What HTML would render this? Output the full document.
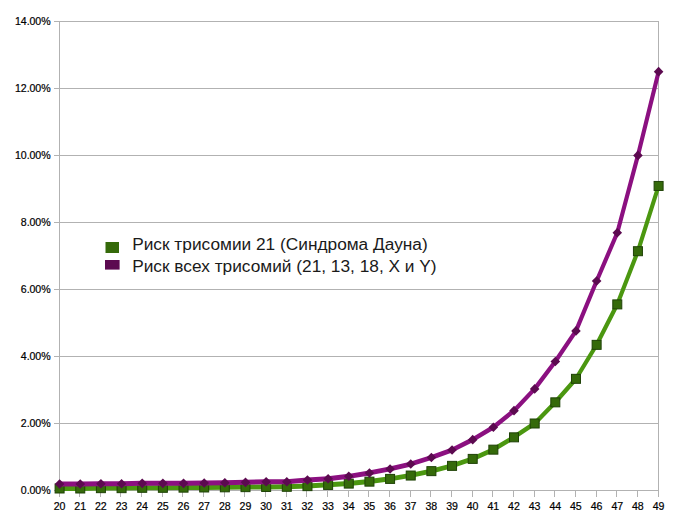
<!DOCTYPE html>
<html><head><meta charset="utf-8"><style>
html,body{margin:0;padding:0;background:#fff;}
body{width:675px;height:522px;overflow:hidden;}
svg{display:block;}
text{font-family:"Liberation Sans",sans-serif;fill:#111;}
.ax{font-size:10.6px;fill:#000;stroke:#000;stroke-width:0.2px;letter-spacing:-0.08px;}
.lg{font-size:17.3px;fill:#1a1a1a;}
</style></head><body>
<svg width="675" height="522" viewBox="0 0 675 522">
<g shape-rendering="crispEdges">
<rect width="675" height="522" fill="#fff"/>
<line x1="54.0" y1="490.50" x2="658.5" y2="490.50" stroke="#b2b2b2" stroke-width="1"/>
<line x1="54.0" y1="423.50" x2="658.5" y2="423.50" stroke="#b2b2b2" stroke-width="1"/>
<line x1="54.0" y1="356.50" x2="658.5" y2="356.50" stroke="#b2b2b2" stroke-width="1"/>
<line x1="54.0" y1="289.50" x2="658.5" y2="289.50" stroke="#b2b2b2" stroke-width="1"/>
<line x1="54.0" y1="222.50" x2="658.5" y2="222.50" stroke="#b2b2b2" stroke-width="1"/>
<line x1="54.0" y1="155.50" x2="658.5" y2="155.50" stroke="#b2b2b2" stroke-width="1"/>
<line x1="54.0" y1="88.50" x2="658.5" y2="88.50" stroke="#b2b2b2" stroke-width="1"/>
<line x1="54.0" y1="21.50" x2="658.5" y2="21.50" stroke="#b2b2b2" stroke-width="1"/>
<line x1="59.5" y1="21.5" x2="59.5" y2="490.5" stroke="#b2b2b2" stroke-width="1"/>
<line x1="658.5" y1="21.5" x2="658.5" y2="490.5" stroke="#b2b2b2" stroke-width="1"/>
<line x1="59.50" y1="490.5" x2="59.50" y2="497.0" stroke="#b2b2b2" stroke-width="1"/>
<line x1="79.50" y1="490.5" x2="79.50" y2="497.0" stroke="#b2b2b2" stroke-width="1"/>
<line x1="100.50" y1="490.5" x2="100.50" y2="497.0" stroke="#b2b2b2" stroke-width="1"/>
<line x1="120.50" y1="490.5" x2="120.50" y2="497.0" stroke="#b2b2b2" stroke-width="1"/>
<line x1="141.50" y1="490.5" x2="141.50" y2="497.0" stroke="#b2b2b2" stroke-width="1"/>
<line x1="162.50" y1="490.5" x2="162.50" y2="497.0" stroke="#b2b2b2" stroke-width="1"/>
<line x1="182.50" y1="490.5" x2="182.50" y2="497.0" stroke="#b2b2b2" stroke-width="1"/>
<line x1="203.50" y1="490.5" x2="203.50" y2="497.0" stroke="#b2b2b2" stroke-width="1"/>
<line x1="224.50" y1="490.5" x2="224.50" y2="497.0" stroke="#b2b2b2" stroke-width="1"/>
<line x1="244.50" y1="490.5" x2="244.50" y2="497.0" stroke="#b2b2b2" stroke-width="1"/>
<line x1="265.50" y1="490.5" x2="265.50" y2="497.0" stroke="#b2b2b2" stroke-width="1"/>
<line x1="286.50" y1="490.5" x2="286.50" y2="497.0" stroke="#b2b2b2" stroke-width="1"/>
<line x1="306.50" y1="490.5" x2="306.50" y2="497.0" stroke="#b2b2b2" stroke-width="1"/>
<line x1="327.50" y1="490.5" x2="327.50" y2="497.0" stroke="#b2b2b2" stroke-width="1"/>
<line x1="348.50" y1="490.5" x2="348.50" y2="497.0" stroke="#b2b2b2" stroke-width="1"/>
<line x1="368.50" y1="490.5" x2="368.50" y2="497.0" stroke="#b2b2b2" stroke-width="1"/>
<line x1="389.50" y1="490.5" x2="389.50" y2="497.0" stroke="#b2b2b2" stroke-width="1"/>
<line x1="410.50" y1="490.5" x2="410.50" y2="497.0" stroke="#b2b2b2" stroke-width="1"/>
<line x1="430.50" y1="490.5" x2="430.50" y2="497.0" stroke="#b2b2b2" stroke-width="1"/>
<line x1="451.50" y1="490.5" x2="451.50" y2="497.0" stroke="#b2b2b2" stroke-width="1"/>
<line x1="472.50" y1="490.5" x2="472.50" y2="497.0" stroke="#b2b2b2" stroke-width="1"/>
<line x1="492.50" y1="490.5" x2="492.50" y2="497.0" stroke="#b2b2b2" stroke-width="1"/>
<line x1="513.50" y1="490.5" x2="513.50" y2="497.0" stroke="#b2b2b2" stroke-width="1"/>
<line x1="534.50" y1="490.5" x2="534.50" y2="497.0" stroke="#b2b2b2" stroke-width="1"/>
<line x1="554.50" y1="490.5" x2="554.50" y2="497.0" stroke="#b2b2b2" stroke-width="1"/>
<line x1="575.50" y1="490.5" x2="575.50" y2="497.0" stroke="#b2b2b2" stroke-width="1"/>
<line x1="596.50" y1="490.5" x2="596.50" y2="497.0" stroke="#b2b2b2" stroke-width="1"/>
<line x1="616.50" y1="490.5" x2="616.50" y2="497.0" stroke="#b2b2b2" stroke-width="1"/>
<line x1="637.50" y1="490.5" x2="637.50" y2="497.0" stroke="#b2b2b2" stroke-width="1"/>
<line x1="658.50" y1="490.5" x2="658.50" y2="497.0" stroke="#b2b2b2" stroke-width="1"/>
</g>
<text x="50.5" y="494.10" text-anchor="end" class="ax">0.00%</text>
<text x="50.5" y="427.10" text-anchor="end" class="ax">2.00%</text>
<text x="50.5" y="360.10" text-anchor="end" class="ax">4.00%</text>
<text x="50.5" y="293.10" text-anchor="end" class="ax">6.00%</text>
<text x="50.5" y="226.10" text-anchor="end" class="ax">8.00%</text>
<text x="50.5" y="159.10" text-anchor="end" class="ax">10.00%</text>
<text x="50.5" y="92.10" text-anchor="end" class="ax">12.00%</text>
<text x="50.5" y="25.10" text-anchor="end" class="ax">14.00%</text>
<text x="59.50" y="510.10" text-anchor="middle" class="ax">20</text>
<text x="80.16" y="510.10" text-anchor="middle" class="ax">21</text>
<text x="100.81" y="510.10" text-anchor="middle" class="ax">22</text>
<text x="121.47" y="510.10" text-anchor="middle" class="ax">23</text>
<text x="142.12" y="510.10" text-anchor="middle" class="ax">24</text>
<text x="162.78" y="510.10" text-anchor="middle" class="ax">25</text>
<text x="183.43" y="510.10" text-anchor="middle" class="ax">26</text>
<text x="204.09" y="510.10" text-anchor="middle" class="ax">27</text>
<text x="224.74" y="510.10" text-anchor="middle" class="ax">28</text>
<text x="245.40" y="510.10" text-anchor="middle" class="ax">29</text>
<text x="266.05" y="510.10" text-anchor="middle" class="ax">30</text>
<text x="286.71" y="510.10" text-anchor="middle" class="ax">31</text>
<text x="307.36" y="510.10" text-anchor="middle" class="ax">32</text>
<text x="328.02" y="510.10" text-anchor="middle" class="ax">33</text>
<text x="348.67" y="510.10" text-anchor="middle" class="ax">34</text>
<text x="369.33" y="510.10" text-anchor="middle" class="ax">35</text>
<text x="389.98" y="510.10" text-anchor="middle" class="ax">36</text>
<text x="410.64" y="510.10" text-anchor="middle" class="ax">37</text>
<text x="431.29" y="510.10" text-anchor="middle" class="ax">38</text>
<text x="451.95" y="510.10" text-anchor="middle" class="ax">39</text>
<text x="472.60" y="510.10" text-anchor="middle" class="ax">40</text>
<text x="493.26" y="510.10" text-anchor="middle" class="ax">41</text>
<text x="513.91" y="510.10" text-anchor="middle" class="ax">42</text>
<text x="534.57" y="510.10" text-anchor="middle" class="ax">43</text>
<text x="555.22" y="510.10" text-anchor="middle" class="ax">44</text>
<text x="575.88" y="510.10" text-anchor="middle" class="ax">45</text>
<text x="596.53" y="510.10" text-anchor="middle" class="ax">46</text>
<text x="617.19" y="510.10" text-anchor="middle" class="ax">47</text>
<text x="637.84" y="510.10" text-anchor="middle" class="ax">48</text>
<text x="658.50" y="510.10" text-anchor="middle" class="ax">49</text>
<g stroke="#4b9710" stroke-linecap="round" fill="none">
<line x1="59.60" y1="488.39" x2="80.26" y2="488.39" stroke-width="5.00"/>
<line x1="80.26" y1="488.39" x2="100.91" y2="488.06" stroke-width="5.00"/>
<line x1="100.91" y1="488.06" x2="121.57" y2="488.06" stroke-width="5.00"/>
<line x1="121.57" y1="488.06" x2="142.22" y2="487.72" stroke-width="5.00"/>
<line x1="142.22" y1="487.72" x2="162.88" y2="487.72" stroke-width="5.00"/>
<line x1="162.88" y1="487.72" x2="183.53" y2="487.55" stroke-width="5.00"/>
<line x1="183.53" y1="487.55" x2="204.19" y2="487.38" stroke-width="5.00"/>
<line x1="204.19" y1="487.38" x2="224.84" y2="487.22" stroke-width="5.00"/>
<line x1="224.84" y1="487.22" x2="245.50" y2="487.05" stroke-width="5.00"/>
<line x1="245.50" y1="487.05" x2="266.15" y2="486.88" stroke-width="5.00"/>
<line x1="266.15" y1="486.88" x2="286.81" y2="486.71" stroke-width="5.00"/>
<line x1="286.81" y1="486.71" x2="307.46" y2="486.04" stroke-width="5.00"/>
<line x1="307.46" y1="486.04" x2="328.12" y2="484.84" stroke-width="5.00"/>
<line x1="328.12" y1="484.84" x2="348.77" y2="483.49" stroke-width="5.00"/>
<line x1="348.77" y1="483.49" x2="369.43" y2="481.54" stroke-width="4.99"/>
<line x1="369.43" y1="481.54" x2="390.08" y2="478.81" stroke-width="4.96"/>
<line x1="390.08" y1="478.81" x2="410.74" y2="475.44" stroke-width="4.93"/>
<line x1="410.74" y1="475.44" x2="431.39" y2="471.04" stroke-width="4.89"/>
<line x1="431.39" y1="471.04" x2="452.05" y2="465.77" stroke-width="4.85"/>
<line x1="452.05" y1="465.77" x2="472.70" y2="458.80" stroke-width="4.78"/>
<line x1="472.70" y1="458.80" x2="493.36" y2="449.55" stroke-width="4.70"/>
<line x1="493.36" y1="449.55" x2="514.01" y2="437.23" stroke-width="4.59"/>
<line x1="514.01" y1="437.23" x2="534.67" y2="423.40" stroke-width="4.54"/>
<line x1="534.67" y1="423.40" x2="555.32" y2="402.24" stroke-width="4.35"/>
<line x1="555.32" y1="402.24" x2="575.98" y2="378.73" stroke-width="4.30"/>
<line x1="575.98" y1="378.73" x2="596.63" y2="344.75" stroke-width="4.24"/>
<line x1="596.63" y1="344.75" x2="617.29" y2="304.29" stroke-width="4.21"/>
<line x1="617.29" y1="304.29" x2="637.94" y2="251.11" stroke-width="4.17"/>
<line x1="637.94" y1="251.11" x2="658.60" y2="185.85" stroke-width="4.15"/>
</g>
<rect x="55.10" y="483.99" width="9" height="9" fill="#356a0a" stroke="#1f4207" stroke-width="1"/>
<rect x="75.76" y="483.99" width="9" height="9" fill="#356a0a" stroke="#1f4207" stroke-width="1"/>
<rect x="96.41" y="483.66" width="9" height="9" fill="#356a0a" stroke="#1f4207" stroke-width="1"/>
<rect x="117.07" y="483.66" width="9" height="9" fill="#356a0a" stroke="#1f4207" stroke-width="1"/>
<rect x="137.72" y="483.32" width="9" height="9" fill="#356a0a" stroke="#1f4207" stroke-width="1"/>
<rect x="158.38" y="483.32" width="9" height="9" fill="#356a0a" stroke="#1f4207" stroke-width="1"/>
<rect x="179.03" y="483.15" width="9" height="9" fill="#356a0a" stroke="#1f4207" stroke-width="1"/>
<rect x="199.69" y="482.98" width="9" height="9" fill="#356a0a" stroke="#1f4207" stroke-width="1"/>
<rect x="220.34" y="482.82" width="9" height="9" fill="#356a0a" stroke="#1f4207" stroke-width="1"/>
<rect x="241.00" y="482.65" width="9" height="9" fill="#356a0a" stroke="#1f4207" stroke-width="1"/>
<rect x="261.65" y="482.48" width="9" height="9" fill="#356a0a" stroke="#1f4207" stroke-width="1"/>
<rect x="282.31" y="482.31" width="9" height="9" fill="#356a0a" stroke="#1f4207" stroke-width="1"/>
<rect x="302.96" y="481.64" width="9" height="9" fill="#356a0a" stroke="#1f4207" stroke-width="1"/>
<rect x="323.62" y="480.44" width="9" height="9" fill="#356a0a" stroke="#1f4207" stroke-width="1"/>
<rect x="344.27" y="479.09" width="9" height="9" fill="#356a0a" stroke="#1f4207" stroke-width="1"/>
<rect x="364.93" y="477.14" width="9" height="9" fill="#356a0a" stroke="#1f4207" stroke-width="1"/>
<rect x="385.58" y="474.41" width="9" height="9" fill="#356a0a" stroke="#1f4207" stroke-width="1"/>
<rect x="406.24" y="471.04" width="9" height="9" fill="#356a0a" stroke="#1f4207" stroke-width="1"/>
<rect x="426.89" y="466.64" width="9" height="9" fill="#356a0a" stroke="#1f4207" stroke-width="1"/>
<rect x="447.55" y="461.37" width="9" height="9" fill="#356a0a" stroke="#1f4207" stroke-width="1"/>
<rect x="468.20" y="454.40" width="9" height="9" fill="#356a0a" stroke="#1f4207" stroke-width="1"/>
<rect x="488.86" y="445.15" width="9" height="9" fill="#356a0a" stroke="#1f4207" stroke-width="1"/>
<rect x="509.51" y="432.83" width="9" height="9" fill="#356a0a" stroke="#1f4207" stroke-width="1"/>
<rect x="530.17" y="419.00" width="9" height="9" fill="#356a0a" stroke="#1f4207" stroke-width="1"/>
<rect x="550.82" y="397.84" width="9" height="9" fill="#356a0a" stroke="#1f4207" stroke-width="1"/>
<rect x="571.48" y="374.33" width="9" height="9" fill="#356a0a" stroke="#1f4207" stroke-width="1"/>
<rect x="592.13" y="340.35" width="9" height="9" fill="#356a0a" stroke="#1f4207" stroke-width="1"/>
<rect x="612.79" y="299.89" width="9" height="9" fill="#356a0a" stroke="#1f4207" stroke-width="1"/>
<rect x="633.44" y="246.71" width="9" height="9" fill="#356a0a" stroke="#1f4207" stroke-width="1"/>
<rect x="654.10" y="181.45" width="9" height="9" fill="#356a0a" stroke="#1f4207" stroke-width="1"/>
<g stroke="#8b1080" stroke-linecap="round" fill="none">
<line x1="59.60" y1="484.03" x2="80.26" y2="484.03" stroke-width="5.00"/>
<line x1="80.26" y1="484.03" x2="100.91" y2="483.70" stroke-width="5.00"/>
<line x1="100.91" y1="483.70" x2="121.57" y2="483.70" stroke-width="5.00"/>
<line x1="121.57" y1="483.70" x2="142.22" y2="483.36" stroke-width="5.00"/>
<line x1="142.22" y1="483.36" x2="162.88" y2="483.36" stroke-width="5.00"/>
<line x1="162.88" y1="483.36" x2="183.53" y2="483.36" stroke-width="5.00"/>
<line x1="183.53" y1="483.36" x2="204.19" y2="483.04" stroke-width="5.00"/>
<line x1="204.19" y1="483.04" x2="224.84" y2="482.70" stroke-width="5.00"/>
<line x1="224.84" y1="482.70" x2="245.50" y2="482.37" stroke-width="5.00"/>
<line x1="245.50" y1="482.37" x2="266.15" y2="481.70" stroke-width="5.00"/>
<line x1="266.15" y1="481.70" x2="286.81" y2="481.70" stroke-width="5.00"/>
<line x1="286.81" y1="481.70" x2="307.46" y2="480.00" stroke-width="5.00"/>
<line x1="307.46" y1="480.00" x2="328.12" y2="478.69" stroke-width="5.00"/>
<line x1="328.12" y1="478.69" x2="348.77" y2="476.32" stroke-width="4.98"/>
<line x1="348.77" y1="476.32" x2="369.43" y2="472.95" stroke-width="4.93"/>
<line x1="369.43" y1="472.95" x2="390.08" y2="468.93" stroke-width="4.90"/>
<line x1="390.08" y1="468.93" x2="410.74" y2="464.02" stroke-width="4.87"/>
<line x1="410.74" y1="464.02" x2="431.39" y2="457.56" stroke-width="4.80"/>
<line x1="431.39" y1="457.56" x2="452.05" y2="450.04" stroke-width="4.76"/>
<line x1="452.05" y1="450.04" x2="472.70" y2="439.64" stroke-width="4.65"/>
<line x1="472.70" y1="439.64" x2="493.36" y2="427.19" stroke-width="4.59"/>
<line x1="493.36" y1="427.19" x2="514.01" y2="410.64" stroke-width="4.46"/>
<line x1="514.01" y1="410.64" x2="534.67" y2="388.88" stroke-width="4.34"/>
<line x1="534.67" y1="388.88" x2="555.32" y2="361.55" stroke-width="4.27"/>
<line x1="555.32" y1="361.55" x2="575.98" y2="330.88" stroke-width="4.25"/>
<line x1="575.98" y1="330.88" x2="596.63" y2="281.02" stroke-width="4.18"/>
<line x1="596.63" y1="281.02" x2="617.29" y2="232.71" stroke-width="4.18"/>
<line x1="617.29" y1="232.71" x2="637.94" y2="155.40" stroke-width="4.15"/>
<line x1="637.94" y1="155.40" x2="658.60" y2="71.65" stroke-width="4.15"/>
</g>
<path d="M59.60 479.23L64.40 484.03L59.60 488.83L54.80 484.03Z" fill="#5c0a50"/>
<path d="M80.26 479.23L85.06 484.03L80.26 488.83L75.46 484.03Z" fill="#5c0a50"/>
<path d="M100.91 478.90L105.71 483.70L100.91 488.50L96.11 483.70Z" fill="#5c0a50"/>
<path d="M121.57 478.90L126.37 483.70L121.57 488.50L116.77 483.70Z" fill="#5c0a50"/>
<path d="M142.22 478.56L147.02 483.36L142.22 488.16L137.42 483.36Z" fill="#5c0a50"/>
<path d="M162.88 478.56L167.68 483.36L162.88 488.16L158.08 483.36Z" fill="#5c0a50"/>
<path d="M183.53 478.56L188.33 483.36L183.53 488.16L178.73 483.36Z" fill="#5c0a50"/>
<path d="M204.19 478.24L208.99 483.04L204.19 487.84L199.39 483.04Z" fill="#5c0a50"/>
<path d="M224.84 477.90L229.64 482.70L224.84 487.50L220.04 482.70Z" fill="#5c0a50"/>
<path d="M245.50 477.57L250.30 482.37L245.50 487.17L240.70 482.37Z" fill="#5c0a50"/>
<path d="M266.15 476.90L270.95 481.70L266.15 486.50L261.35 481.70Z" fill="#5c0a50"/>
<path d="M286.81 476.90L291.61 481.70L286.81 486.50L282.01 481.70Z" fill="#5c0a50"/>
<path d="M307.46 475.20L312.26 480.00L307.46 484.80L302.66 480.00Z" fill="#5c0a50"/>
<path d="M328.12 473.89L332.92 478.69L328.12 483.49L323.32 478.69Z" fill="#5c0a50"/>
<path d="M348.77 471.52L353.57 476.32L348.77 481.12L343.97 476.32Z" fill="#5c0a50"/>
<path d="M369.43 468.15L374.23 472.95L369.43 477.75L364.63 472.95Z" fill="#5c0a50"/>
<path d="M390.08 464.13L394.88 468.93L390.08 473.73L385.28 468.93Z" fill="#5c0a50"/>
<path d="M410.74 459.22L415.54 464.02L410.74 468.82L405.94 464.02Z" fill="#5c0a50"/>
<path d="M431.39 452.76L436.19 457.56L431.39 462.36L426.59 457.56Z" fill="#5c0a50"/>
<path d="M452.05 445.24L456.85 450.04L452.05 454.84L447.25 450.04Z" fill="#5c0a50"/>
<path d="M472.70 434.84L477.50 439.64L472.70 444.44L467.90 439.64Z" fill="#5c0a50"/>
<path d="M493.36 422.39L498.16 427.19L493.36 431.99L488.56 427.19Z" fill="#5c0a50"/>
<path d="M514.01 405.84L518.81 410.64L514.01 415.44L509.21 410.64Z" fill="#5c0a50"/>
<path d="M534.67 384.08L539.47 388.88L534.67 393.68L529.87 388.88Z" fill="#5c0a50"/>
<path d="M555.32 356.75L560.12 361.55L555.32 366.35L550.52 361.55Z" fill="#5c0a50"/>
<path d="M575.98 326.08L580.78 330.88L575.98 335.68L571.18 330.88Z" fill="#5c0a50"/>
<path d="M596.63 276.22L601.43 281.02L596.63 285.82L591.83 281.02Z" fill="#5c0a50"/>
<path d="M617.29 227.91L622.09 232.71L617.29 237.51L612.49 232.71Z" fill="#5c0a50"/>
<path d="M637.94 150.60L642.74 155.40L637.94 160.20L633.14 155.40Z" fill="#5c0a50"/>
<path d="M658.60 66.85L663.40 71.65L658.60 76.45L653.80 71.65Z" fill="#5c0a50"/>
<rect x="105.5" y="242" width="13.5" height="11" fill="#356a0a"/>
<rect x="105" y="260" width="14.6" height="9.6" fill="#5c0a50"/>
<text x="132.2" y="250" class="lg">Риск трисомии 21 (Синдрома Дауна)</text>
<text x="132.2" y="271.6" class="lg">Риск всех трисомий (21, 13, 18, X и Y)</text>
</svg>
</body></html>
